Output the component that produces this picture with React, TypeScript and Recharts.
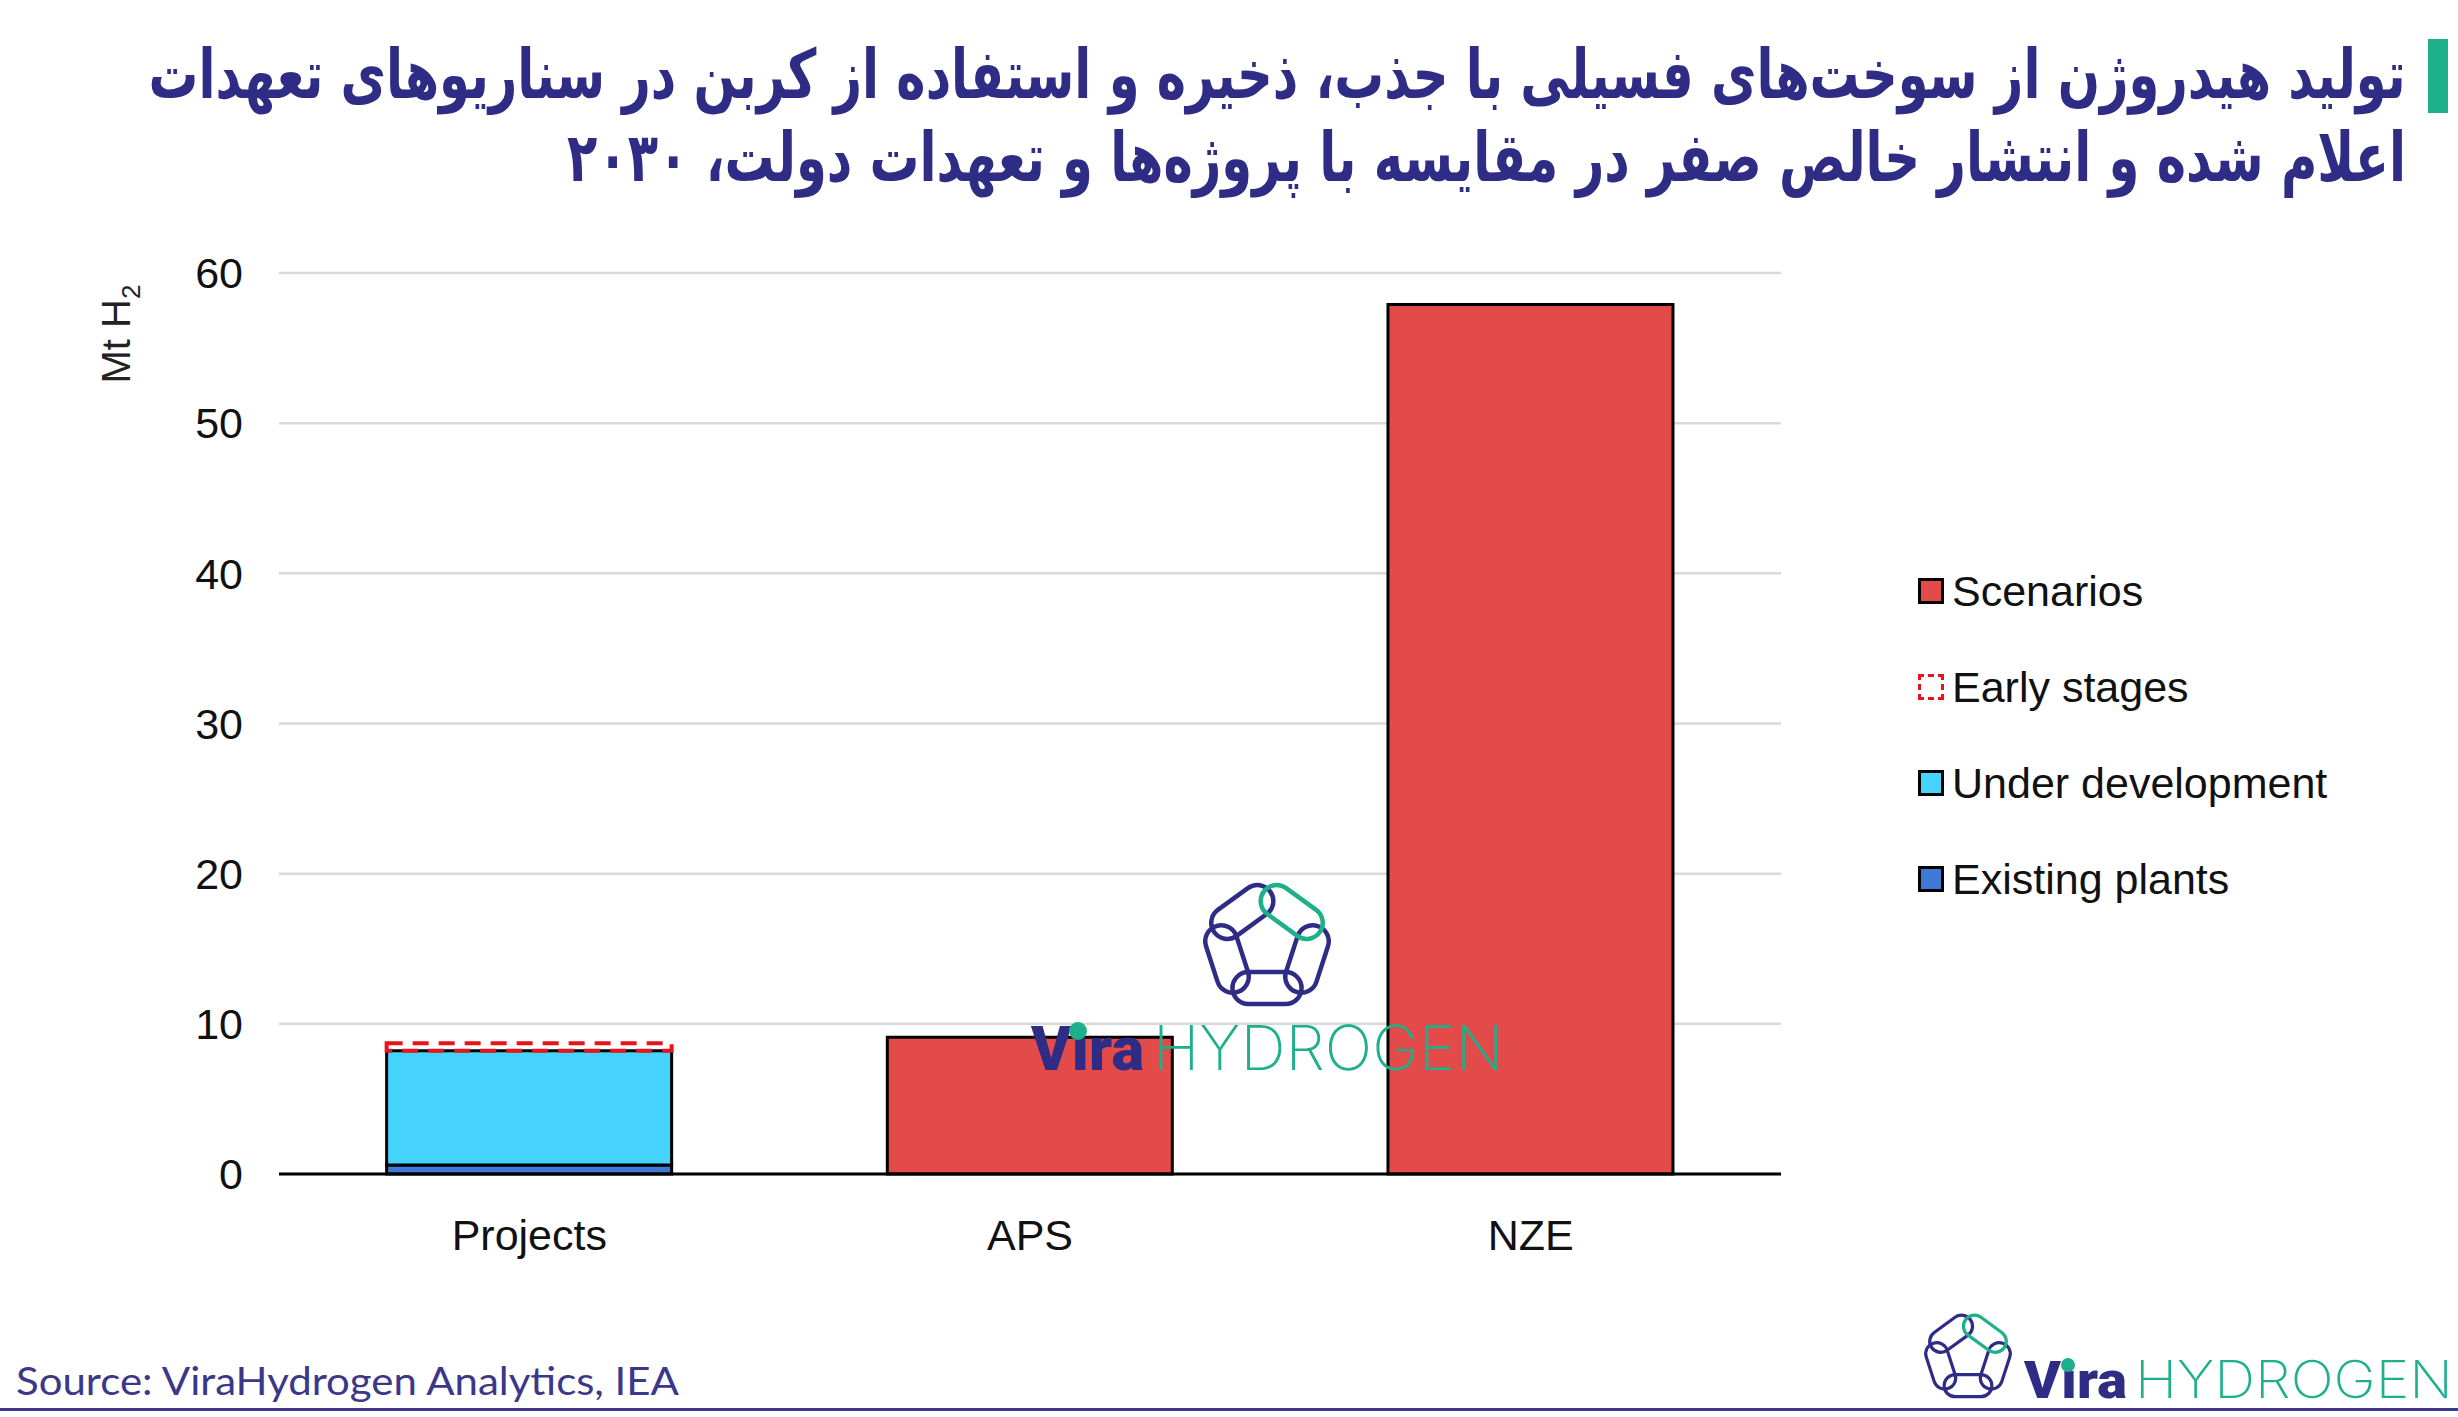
import React, { useLayoutEffect, useRef, useState } from "react";
import { BarChart, Bar, XAxis, YAxis, CartesianGrid, Legend } from "recharts";

const categories = ["Projects", "APS", "NZE"];
const existingPlants = [0.6, null, null];
const underDevelopment = [7.6, null, null];
const earlyStages = [0.5, null, null];
const scenarios = [null, 9.1, 57.9];
const yTicks = [0, 10, 20, 30, 40, 50, 60];
const legendItems = [
  { key: "Scenarios", color: "#e24b4a", dashed: false },
  { key: "Early stages", color: "#e8141c", dashed: true },
  { key: "Under development", color: "#46d3fd", dashed: false },
  { key: "Existing plants", color: "#3f78d6", dashed: false },
];
const titleLine1 = "تولید هیدروژن از سوخت‌های فسیلی با جذب، ذخیره و استفاده از کربن در سناریوهای تعهدات";
const titleLine2 = "اعلام شده و انتشار خالص صفر در مقایسه با پروژه‌ها و تعهدات دولت، ۲۰۳۰";

const data = categories.map((c, i) => ({
  name: c,
  existing: existingPlants[i],
  under: underDevelopment[i],
  early: earlyStages[i],
  scen: scenarios[i],
}));

const NAVY = "#2f2c85";
const GREEN = "#1db08a";
const FONT = "'Liberation Sans', Arial, sans-serif";

function ChainLogo({ cx, cy, R, w, sw, ext }: any) {
  const verts = [0, 1, 2, 3, 4].map((i) => {
    const a = ((-90 + 72 * i) * Math.PI) / 180;
    return [cx + R * Math.cos(a), cy + R * Math.sin(a)];
  });
  const side = 2 * R * Math.sin(Math.PI / 5);
  const L = side + ext * 2;
  return (
    <g>
      {[1, 2, 3, 4, 0].map((i) => {
        const a = verts[i];
        const b = verts[(i + 1) % 5];
        const mx = (a[0] + b[0]) / 2;
        const my = (a[1] + b[1]) / 2;
        const ang = (Math.atan2(b[1] - a[1], b[0] - a[0]) * 180) / Math.PI;
        return (
          <rect
            key={i}
            x={-L / 2}
            y={-w / 2}
            width={L}
            height={w}
            rx={w / 2}
            fill="none"
            stroke={i === 0 ? GREEN : NAVY}
            strokeWidth={sw}
            transform={`translate(${mx},${my}) rotate(${ang})`}
          />
        );
      })}
    </g>
  );
}

function Wordmark({ x, y, size, viraW, hydX, hydW, dotX, dotY, dotR }: any) {
  return (
    <g>
      <text x={x} y={y} fontFamily="Roboto, 'Open Sans', sans-serif" fontWeight={900} fontSize={size} fill={NAVY} textLength={viraW} lengthAdjust="spacingAndGlyphs">
        Vıra
      </text>
      <circle cx={dotX} cy={dotY} r={dotR} fill={GREEN} />
      <text x={hydX} y={y} fontFamily="Inter, 'Open Sans', sans-serif" fontWeight={200} fontSize={size} fill={GREEN} textLength={hydW} lengthAdjust="spacingAndGlyphs">
        HYDROGEN
      </text>
    </g>
  );
}

function LegendContent() {
  return (
    <div style={{ fontFamily: FONT, fontSize: 43, color: "#111" }}>
      {legendItems.map((it) => (
        <div key={it.key} style={{ height: 96, display: "flex", alignItems: "center" }}>
          {it.dashed ? (
            <div style={{ width: 20, height: 20, border: `3px dashed ${it.color}`, boxSizing: "content-box", marginRight: 8 }} />
          ) : (
            <div style={{ width: 20, height: 20, background: it.color, border: "3px solid #000", boxSizing: "content-box", marginRight: 8 }} />
          )}
          <span style={{ whiteSpace: "nowrap" }}>{it.key}</span>
        </div>
      ))}
    </div>
  );
}

function YLabel() {
  return (
    <text transform="translate(130,334) rotate(-90)" textAnchor="middle" fontFamily={FONT} fontSize={40} fill="#222">
      Mt H<tspan fontSize={26} dy={10}>2</tspan>
    </text>
  );
}

function Title() {
  const r1 = useRef<HTMLSpanElement>(null);
  const r2 = useRef<HTMLSpanElement>(null);
  const [sc, setSc] = useState([1, 1]);
  useLayoutEffect(() => {
    const w1 = r1.current ? r1.current.getBoundingClientRect().width : 0;
    const w2 = r2.current ? r2.current.getBoundingClientRect().width : 0;
    if (w1 > 0 && w2 > 0) setSc([2257 / w1, 1839 / w2]);
  }, []);
  const lineStyle: any = { height: 83, textAlign: "right", whiteSpace: "nowrap" };
  const spanStyle = (s: number): any => ({
    display: "inline-block",
    transform: `scaleX(${s})`,
    transformOrigin: "right center",
  });
  return (
    <div
      dir="rtl"
      style={{
        position: "absolute",
        right: 52,
        top: 33,
        width: 2400,
        fontFamily: "'DejaVu Sans', sans-serif",
        fontWeight: 700,
        fontSize: 68,
        lineHeight: "83px",
        color: NAVY,
      }}
    >
      <div style={lineStyle}>
        <span ref={r1} style={spanStyle(sc[0])}>{titleLine1}</span>
      </div>
      <div style={lineStyle}>
        <span ref={r2} style={spanStyle(sc[1])}>{titleLine2}</span>
      </div>
    </div>
  );
}

export default function App() {
  return (
    <div style={{ position: "absolute", left: 0, top: 0, width: 2458, height: 1417, background: "#fff", overflow: "hidden" }}>
      <Title />
      <div style={{ position: "absolute", left: 2428, top: 39, width: 20, height: 74, background: GREEN }} />
      <div style={{ position: "absolute", left: 0, top: 0 }}>
        <BarChart width={2458} height={1417} data={data} margin={{ top: 273, right: 177, bottom: 183, left: 0 }} barCategoryGap="21.5%">
          <CartesianGrid vertical={false} stroke="#d9d9d9" strokeWidth={2.5} />
          <XAxis
            dataKey="name"
            height={60}
            tickSize={0}
            tickMargin={45}
            axisLine={{ stroke: "#000", strokeWidth: 3 }}
            tickLine={false}
            tick={{ fontFamily: FONT, fontSize: 43, fill: "#111" }}
          />
          <YAxis
            width={279}
            domain={[0, 60]}
            ticks={yTicks}
            tickSize={0}
            tickMargin={36}
            axisLine={false}
            tickLine={false}
            tick={{ fontFamily: FONT, fontSize: 43, fill: "#111" }}
            label={{ content: () => <YLabel /> }}
          />
          <Legend
            layout="vertical"
            align="right"
            verticalAlign="top"
            content={() => <LegendContent />}
            wrapperStyle={{ left: 1918, top: 543, width: 500 }}
          />
          <Bar dataKey="existing" stackId="a" fill="#3f78d6" stroke="#000" strokeWidth={3} isAnimationActive={false} />
          <Bar dataKey="under" stackId="a" fill="#46d3fd" stroke="#000" strokeWidth={3} isAnimationActive={false} />
          <Bar dataKey="early" stackId="a" fill="none" stroke="#e8141c" strokeWidth={4} strokeDasharray="16 10" isAnimationActive={false} />
          <Bar dataKey="scen" stackId="a" fill="#e24b4a" stroke="#000" strokeWidth={3} isAnimationActive={false} />
        </BarChart>
      </div>
      <svg width={2458} height={1417} style={{ position: "absolute", left: 0, top: 0, pointerEvents: "none" }}>
        <ChainLogo cx={1267} cy={946} R={52} w={32} sw={4.5} ext={4} />
        <Wordmark x={1031} y={1070} size={62} viraW={113} hydX={1153} hydW={351} dotX={1078} dotY={1031} dotR={9} />
        <ChainLogo cx={1968} cy={1357} R={35.5} w={22} sw={3.2} ext={3} />
        <Wordmark x={2024} y={1398} size={52} viraW={103} hydX={2135} hydW={318} dotX={2068} dotY={1365} dotR={7} />
        <text x={16} y={1395} fontFamily="Lato, 'Open Sans', sans-serif" fontSize={38} fill="#3b388a" textLength={663} lengthAdjust="spacingAndGlyphs">
          Source: ViraHydrogen Analytics, IEA
        </text>
        <rect x={0} y={1408} width={2458} height={3} fill="#3d3a8a" />
      </svg>
    </div>
  );
}
